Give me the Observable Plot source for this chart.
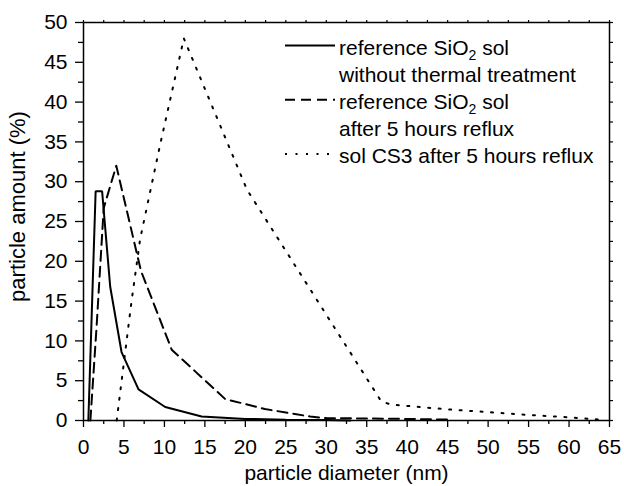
<!DOCTYPE html>
<html>
<head>
<meta charset="utf-8">
<script src="https://cdn.jsdelivr.net/npm/d3@7"></script>
<script src="https://cdn.jsdelivr.net/npm/@observablehq/plot@0.6"></script>
<style>
  html, body { margin: 0; padding: 0; background: #ffffff; }
  #wrap { position: relative; width: 624px; height: 486px; overflow: hidden; }
  #legend { position: absolute; left: 0; top: 0; pointer-events: none; }
</style>
</head>
<body>
<div id="wrap"></div>
<script>
// ---- data ----
// reference SiO2 sol without thermal treatment (solid)
const solidX = [0.6, 1.5, 2.3, 3.3, 4.7, 6.8, 10.1, 14.6, 20, 25, 30, 33];
const solidY = [0, 28.8, 28.8, 16.8, 8.6, 3.9, 1.7, 0.5, 0.2, 0.1, 0.05, 0];
// reference SiO2 sol after 5 hours reflux (dashed)
const dashedX = [0.85, 1.6, 2.5, 4.05, 7.1, 10.9, 17.5, 22.4, 25, 28, 30, 35, 40, 45.5];
const dashedY = [0, 11.5, 26.7, 32, 18.8, 8.9, 2.7, 1.45, 1.0, 0.5, 0.3, 0.25, 0.2, 0.1];
// sol CS3 after 5 hours reflux (dotted)
const dottedX = [4.1, 5.9, 7.0, 9.5, 12.4, 20.2, 36.8, 38, 45, 50, 55, 60, 64];
const dottedY = [0, 14.7, 22.8, 34.8, 48, 29, 2.4, 2.0, 1.4, 1.05, 0.7, 0.4, 0.1];

// ticks
const xTicks = [0, 5, 10, 15, 20, 25, 30, 35, 40, 45, 50, 55, 60, 65];
const xMinor = [2.5, 7.5, 12.5, 17.5, 22.5, 27.5, 32.5, 37.5, 42.5, 47.5, 52.5, 57.5, 62.5];
const yTicks = [0, 5, 10, 15, 20, 25, 30, 35, 40, 45, 50];
const yMinor = [2.5, 7.5, 12.5, 17.5, 22.5, 27.5, 32.5, 37.5, 42.5, 47.5];

// texts
const xLabel = "particle diameter (nm)";
const yLabel = "particle amount (%)";
const legendRows = [
  {series: "solid", parts: [["reference SiO", false], ["2", true], [" sol", false]]},
  {series: null, parts: [["without thermal treatment", false]]},
  {series: "dashed", parts: [["reference SiO", false], ["2", true], [" sol", false]]},
  {series: null, parts: [["after 5 hours reflux", false]]},
  {series: "dotted", parts: [["sol CS3 after 5 hours reflux", false]]}
];

const dashes = {solid: null, dashed: "10,6", dotted: "2,8.5"};

const toRows = (xs, ys) => xs.map((x, i) => ({x, y: ys[i]}));
const solidData = toRows(solidX, solidY);
const dashedData = toRows(dashedX, dashedY);
const dottedData = toRows(dottedX, dottedY);

const FONT = "'Liberation Sans', Arial, Helvetica, sans-serif";
const noText = () => "";

const chart = Plot.plot({
  width: 624,
  height: 486,
  marginLeft: 83,
  marginRight: 15,
  marginTop: 22,
  marginBottom: 66,
  x: {domain: [0, 65], label: null},
  y: {domain: [0, 50], label: null},
  style: {fontFamily: FONT, fontSize: "21px", color: "black", background: "white", overflow: "visible"},
  marks: [
    // minor ticks
    Plot.axisX(xMinor, {anchor: "bottom", tickSize: 4, tickFormat: noText, label: null, strokeWidth: 1.3}),
    Plot.axisY(yMinor, {anchor: "left", tickSize: 5, tickFormat: noText, label: null, strokeWidth: 1.3}),
    // major ticks + labels
    Plot.axisX(xTicks, {anchor: "bottom", tickSize: 7, tickPadding: 12, label: null, strokeWidth: 1.3, fontSize: 21}),
    Plot.axisY(yTicks, {anchor: "left", tickSize: 8, tickPadding: 8, label: null, strokeWidth: 1.3, fontSize: 21}),
    // mirrored small ticks on top and right
    Plot.axisX(xTicks.concat(xMinor), {anchor: "top", tickSize: 3, tickFormat: noText, label: null, strokeWidth: 1.2}),
    Plot.axisY(yTicks.concat(yMinor), {anchor: "right", tickSize: 3, tickFormat: noText, label: null, strokeWidth: 1.2}),
    Plot.frame({stroke: "black", strokeWidth: 1.5}),
    // series
    Plot.line(solidData, {x: "x", y: "y", stroke: "black", strokeWidth: 2, strokeLinejoin: "miter"}),
    Plot.line(dashedData, {x: "x", y: "y", stroke: "black", strokeWidth: 2, strokeDasharray: dashes.dashed}),
    Plot.line(dottedData, {x: "x", y: "y", stroke: "black", strokeWidth: 2, strokeDasharray: dashes.dotted}),
    // axis titles
    Plot.text([xLabel], {frameAnchor: "bottom", text: d => d, textAnchor: "middle", lineAnchor: "bottom", dy: 59, fontSize: 21, fill: "black"}),
    Plot.text([yLabel], {frameAnchor: "left", text: d => d, rotate: -90, textAnchor: "middle", lineAnchor: "bottom", dx: -59, dy: -15, fontSize: 22, fill: "black"})
  ]
});

const wrap = document.getElementById("wrap");
wrap.appendChild(chart);

// ---- legend (overlay SVG, for the SiO2 subscript) ----
const lx0 = 285, lx1 = 335, tx = 339, rowH = 27.1, firstBase = 55;
const leg = d3.create("svg")
  .attr("id", "legend")
  .attr("width", 624)
  .attr("height", 486)
  .style("font-family", FONT)
  .style("font-size", "21px");

legendRows.forEach((row, i) => {
  const base = firstBase + i * rowH;
  if (row.series) {
    const l = leg.append("line")
      .attr("x1", lx0).attr("x2", lx1)
      .attr("y1", base - 9.5).attr("y2", base - 9.5)
      .attr("stroke", "black").attr("stroke-width", 2);
    if (dashes[row.series]) l.attr("stroke-dasharray", dashes[row.series]);
  }
  const t = leg.append("text").attr("x", tx).attr("y", base).attr("fill", "black");
  let sub = false;
  row.parts.forEach(([s, isSub]) => {
    const ts = t.append("tspan").text(s);
    if (isSub && !sub) { ts.attr("dy", 5).style("font-size", "14px"); sub = true; }
    else if (!isSub && sub) { ts.attr("dy", -5); sub = false; }
  });
});
wrap.appendChild(leg.node());
</script>
</body>
</html>
